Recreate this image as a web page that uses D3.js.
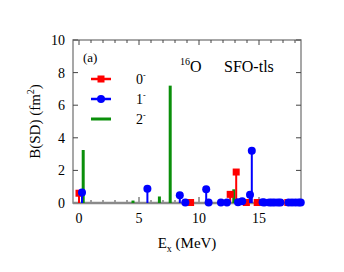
<!DOCTYPE html>
<html>
<head>
<meta charset="utf-8">
<script src="https://cdn.jsdelivr.net/npm/d3@7"></script>
<style>
  body { margin: 0; background: #fff; }
</style>
</head>
<body>
<svg id="chart"></svg>
<script>
// B(SD) strengths, (Ex in MeV, B in fm^2)
const ex0 = [0.0, 9.3, 12.6, 13.1, 13.95, 14.85, 16.7, 17.4];
const b0  = [0.6, 0.03, 0.53, 1.9, 0.03, 0.03, 0.03, 0.03];

const ex1 = [0.25, 5.7, 8.4, 8.86, 10.6, 10.8, 11.83, 12.33, 13.25, 13.6, 14.25, 14.4,
             15.3, 15.45, 15.86, 16.08, 16.3, 16.58, 16.78, 17.47, 17.75, 18.03, 18.3, 18.48];
const b1  = [0.65, 0.88, 0.47, 0.03, 0.84, 0.03, 0.03, 0.03, 0.05, 0.1, 0.5, 3.2,
             0.04, 0.03, 0.03, 0.03, 0.03, 0.03, 0.03, 0.03, 0.03, 0.03, 0.03, 0.03];

const ex2 = [0.35, 4.5, 6.7, 7.6, 12.35, 12.9, 13.2, 14.1];
const b2  = [3.25, 0.15, 0.4, 7.2, 0.22, 0.84, 0.12, 0.08];

const xTicks = [0, 5, 10, 15];
const yTicks = [0, 2, 4, 6, 8, 10];

const width = 344, height = 272;
const mLeft = 73, mRight = 301, mTop = 40, mBottom = 203;
const serif = 'Liberation Serif';

const svg = d3.select('#chart').attr('width', width).attr('height', height);

const x = d3.scaleLinear().domain([-0.5, 18.5]).range([mLeft, mRight]);
const y = d3.scaleLinear().domain([0, 10]).range([mBottom, mTop]);

const axisColor = '#8a8a8a';

// frame
svg.append('rect')
  .attr('x', mLeft).attr('y', mTop)
  .attr('width', mRight - mLeft).attr('height', mBottom - mTop)
  .attr('fill', 'none').attr('stroke', axisColor).attr('stroke-width', 1.5);

// ticks
const minorX = d3.range(0, 19);
svg.append('g').selectAll('line').data(minorX).enter().append('line')
  .attr('x1', d => x(d)).attr('x2', d => x(d))
  .attr('y1', mBottom).attr('y2', d => mBottom - (d % 5 === 0 ? 6 : 3))
  .attr('stroke', '#444').attr('stroke-width', 1);
svg.append('g').selectAll('line').data(minorX).enter().append('line')
  .attr('x1', d => x(d)).attr('x2', d => x(d))
  .attr('y1', mTop).attr('y2', d => mTop + (d % 5 === 0 ? 5 : 3))
  .attr('stroke', '#444').attr('stroke-width', 1);
svg.append('g').selectAll('line').data(yTicks).enter().append('line')
  .attr('x1', mLeft).attr('x2', mLeft + 5)
  .attr('y1', d => y(d)).attr('y2', d => y(d))
  .attr('stroke', '#444').attr('stroke-width', 1);
svg.append('g').selectAll('line').data(yTicks).enter().append('line')
  .attr('x1', mRight).attr('x2', mRight - 5)
  .attr('y1', d => y(d)).attr('y2', d => y(d))
  .attr('stroke', '#444').attr('stroke-width', 1);

// tick labels
svg.append('g').selectAll('text').data(xTicks).enter().append('text')
  .attr('x', d => x(d)).attr('y', 223)
  .attr('text-anchor', 'middle').attr('font-size', 14).attr('font-family', serif)
  .text(d => d);
svg.append('g').selectAll('text').data(yTicks).enter().append('text')
  .attr('x', 65).attr('y', d => y(d) + 5)
  .attr('text-anchor', 'end').attr('font-size', 14).attr('font-family', serif)
  .text(d => d);

// zero line
svg.append('line')
  .attr('x1', mLeft).attr('x2', mRight)
  .attr('y1', y(0)).attr('y2', y(0))
  .attr('stroke', axisColor).attr('stroke-width', 2.5);

// 2- bars
const g2 = d3.zip(ex2, b2);
svg.append('g').selectAll('line').data(g2).enter().append('line')
  .attr('x1', d => x(d[0])).attr('x2', d => x(d[0]))
  .attr('y1', y(0)).attr('y2', d => y(d[1]))
  .attr('stroke', '#0a8f0a').attr('stroke-width', 3);

// 0- stems
const g0 = d3.zip(ex0, b0);
const s0 = svg.append('g');
s0.selectAll('line').data(g0).enter().append('line')
  .attr('x1', d => x(d[0])).attr('x2', d => x(d[0]))
  .attr('y1', y(0)).attr('y2', d => y(d[1]))
  .attr('stroke', '#ff0000').attr('stroke-width', 2);
s0.selectAll('rect').data(g0).enter().append('rect')
  .attr('x', d => x(d[0]) - 3.5).attr('y', d => y(d[1]) - 3.5)
  .attr('width', 7).attr('height', 7)
  .attr('fill', '#ff0000');

// 1- stems
const g1 = d3.zip(ex1, b1);
const s1 = svg.append('g');
s1.selectAll('line').data(g1).enter().append('line')
  .attr('x1', d => x(d[0])).attr('x2', d => x(d[0]))
  .attr('y1', y(0)).attr('y2', d => y(d[1]))
  .attr('stroke', '#0000ff').attr('stroke-width', 2);
s1.selectAll('circle').data(g1).enter().append('circle')
  .attr('cx', d => x(d[0])).attr('cy', d => y(d[1]))
  .attr('r', 4)
  .attr('fill', '#0000ff');

// legend
const leg = svg.append('g');
leg.append('text').attr('x', 83).attr('y', 62).attr('font-size', 13).attr('font-family', serif).text('(a)');
const legY = [79, 99, 119];
const legLabels = ['0', '1', '2'];
leg.append('line').attr('x1', 91).attr('x2', 111).attr('y1', legY[0]).attr('y2', legY[0])
  .attr('stroke', '#ff0000').attr('stroke-width', 2.5);
leg.append('rect').attr('x', 97.5).attr('y', legY[0] - 3.5).attr('width', 7).attr('height', 7)
  .attr('fill', '#ff0000');
leg.append('line').attr('x1', 91).attr('x2', 111).attr('y1', legY[1]).attr('y2', legY[1])
  .attr('stroke', '#0000ff').attr('stroke-width', 2.5);
leg.append('circle').attr('cx', 101).attr('cy', legY[1]).attr('r', 4).attr('fill', '#0000ff');
leg.append('line').attr('x1', 91).attr('x2', 111).attr('y1', legY[2]).attr('y2', legY[2])
  .attr('stroke', '#0a8f0a').attr('stroke-width', 3);
legLabels.forEach((l, i) => {
  const t = leg.append('text').attr('x', 136).attr('y', legY[i] + 5)
    .attr('font-size', 14).attr('font-family', serif);
  t.append('tspan').text(l);
  t.append('tspan').attr('dy', -6).attr('font-size', 8).text('-');
});

// title
const title = svg.append('text').attr('x', 180).attr('y', 72)
  .attr('font-size', 16).attr('font-family', serif);
title.append('tspan').attr('dy', -7).attr('font-size', 10).text('16');
title.append('tspan').attr('dy', 7).text('O');
title.append('tspan').attr('x', 224).text('SFO-tls');

// axis titles
const yt = svg.append('text')
  .attr('transform', `translate(40, ${(mTop + mBottom) / 2}) rotate(-90)`)
  .attr('text-anchor', 'middle').attr('font-size', 15).attr('font-family', serif);
yt.append('tspan').text('B(SD) (fm');
yt.append('tspan').attr('dy', -6).attr('font-size', 10).text('2');
yt.append('tspan').attr('dy', 6).text(')');

const xt = svg.append('text')
  .attr('x', (mLeft + mRight) / 2).attr('y', 248)
  .attr('text-anchor', 'middle').attr('font-size', 15).attr('font-family', serif);
xt.append('tspan').text('E');
xt.append('tspan').attr('dy', 4).attr('font-size', 10).text('x');
xt.append('tspan').attr('dy', -4).text(' (MeV)');
</script>
</body>
</html>
